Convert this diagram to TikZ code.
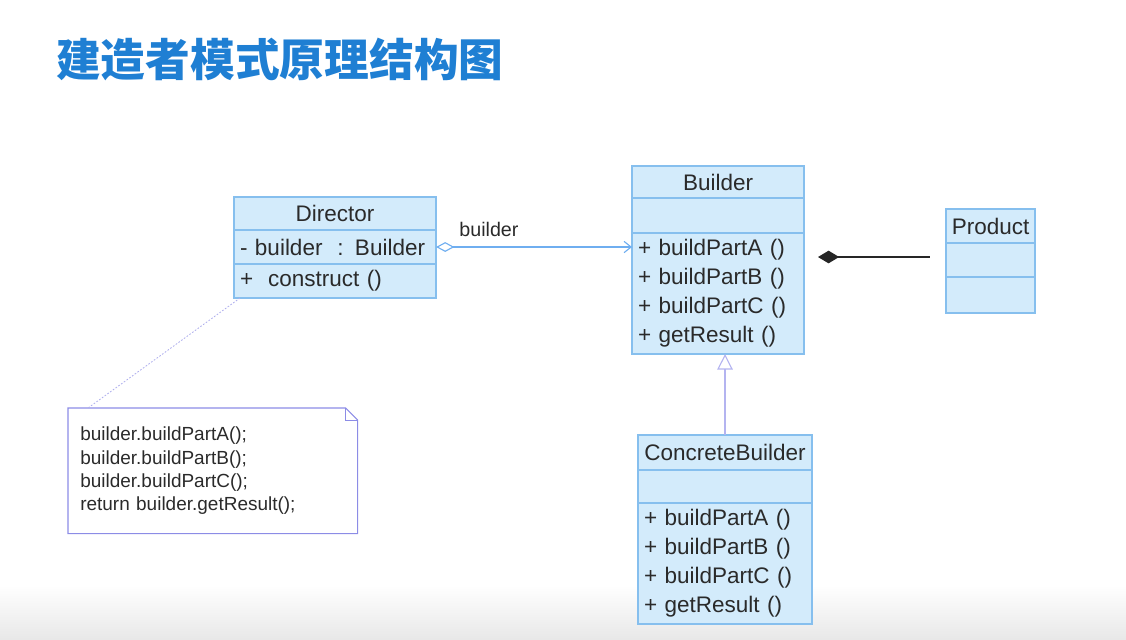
\documentclass[tikz,border=0pt]{standalone}
\usepackage{fontspec}
\setmainfont{Liberation Sans}
\newfontfamily\cjk{Noto Sans CJK SC}
\usepackage{xcolor}
\usepackage{tikz}
\usetikzlibrary{positioning,arrows.meta}

\definecolor{umlfill}{HTML}{D3EBFB}
\definecolor{umlline}{HTML}{86BFEE}
\definecolor{umltext}{HTML}{2A2A2A}
\definecolor{titleblue}{HTML}{1F7FD3}
\definecolor{notelilac}{HTML}{8C8CE6}
\definecolor{genlilac}{HTML}{B4B4F0}
\definecolor{assocblue}{HTML}{6FAEF0}

\begin{document}
\begin{tikzpicture}[x=0.025cm,y=-0.025cm,
  cls/.style={draw=umlline, fill=umlfill, line width=1pt, inner sep=0pt, outer sep=0pt,
    text=umltext, font=\fontsize{16}{20.6}\selectfont},
  head/.style={cls, minimum width=#1, minimum height=0.825cm},
  body/.style={cls, text width=#1, inner xsep=0.15cm, align=left, minimum height=0.85cm},
  notebox/.style={inner xsep=0.3cm, inner ysep=0pt, align=left, text=umltext,
    font=\fontsize{13.5}{16.5}\selectfont},
  assoc/.style={draw=assocblue, line width=0.8pt,
    {Diamond[open, length=13pt, width=7pt]}-{Straight Barb[length=5pt, width=8pt]}},
  compo/.style={draw=black!85, line width=1pt, {Diamond[length=15pt, width=9pt]}-},
  inherit/.style={draw=genlilac, line width=0.8pt, -{Triangle[open, length=11pt, width=11pt]}},
  notelink/.style={draw=notelilac!70, line width=0.6pt, dash pattern=on 1.2pt off 1.2pt}
]
  \useasboundingbox (0,0) rectangle (1126,639);
  \shade[top color=white, bottom color=black!9] (0,585) rectangle (1126,639);

  % title
  \node[anchor=west, inner sep=0pt, text=titleblue,
    font=\cjk\bfseries\fontsize{31.8}{36}\selectfont] (title) at (56,59) {建造者模式原理结构图};

  % Director
  \node[head=5.05cm, anchor=north west] (dirhead) at (234,197) {Director};
  \node[body=4.75cm, below=0pt of dirhead] (dirattr) {-\ builder\ \ : Builder};
  \node[body=4.75cm, below=0pt of dirattr] (dirops) {+\ \ construct ()};

  % Builder
  \node[head=4.3cm, minimum height=0.8cm, anchor=north west] (bldhead) at (632,166) {Builder};
  \node[body=4.0cm, minimum height=0.875cm, below=0pt of bldhead] (bldattr) {};
  \node[body=4.0cm, minimum height=3.025cm, below=0pt of bldattr] (bldops)
    {+ buildPartA ()\\+ buildPartB ()\\+ buildPartC ()\\+ getResult ()};

  % Product
  \node[head=2.225cm, minimum height=0.85cm, anchor=north west] (prodhead) at (946,209) {Product};
  \node[body=1.925cm, below=0pt of prodhead] (prodattr) {};
  \node[body=1.925cm, minimum height=0.9cm, below=0pt of prodattr] (prodops) {};

  % ConcreteBuilder
  \node[head=4.35cm, minimum height=0.875cm, anchor=north west] (cbhead) at (638,435) {ConcreteBuilder};
  \node[body=4.05cm, minimum height=0.825cm, below=0pt of cbhead] (cbattr) {};
  \node[body=4.05cm, minimum height=3.025cm, below=0pt of cbattr] (cbops)
    {+ buildPartA ()\\+ buildPartB ()\\+ buildPartC ()\\+ getResult ()};

  % note
  \node[notebox, anchor=north west, minimum width=7.225cm, minimum height=3.125cm,
    text width=6.625cm] (note) at (68,408)
    {builder.buildPartA();\\builder.buildPartB();\\builder.buildPartC();\\return builder.getResult();};
  \draw[notelilac, line width=0.8pt] (note.north west) -- ([xshift=-0.3cm]note.north east)
    -- ([yshift=-0.3cm]note.north east) -- (note.south east) -- (note.south west) -- cycle;
  \draw[notelilac, line width=0.6pt] ([xshift=-0.3cm]note.north east)
    -- ([xshift=-0.3cm, yshift=-0.3cm]note.north east) -- ([yshift=-0.3cm]note.north east);

  % connectors
  \draw[assoc] (dirattr.east) -- (dirattr.east -| bldops.west)
    node[pos=0.27, above=0.12cm, text=umltext, font=\fontsize{14}{16}\selectfont] {builder};
  \coordinate (compL) at (818,257);
  \coordinate (compR) at (930,257);
  \draw[compo] (compL) -- (compR);
  \draw[inherit] (cbhead.north) -- (cbhead.north |- bldops.south);
  \draw[notelink] ([xshift=0.15cm]dirops.south west) -- ([xshift=0.5cm]note.north west);
\end{tikzpicture}
\end{document}
